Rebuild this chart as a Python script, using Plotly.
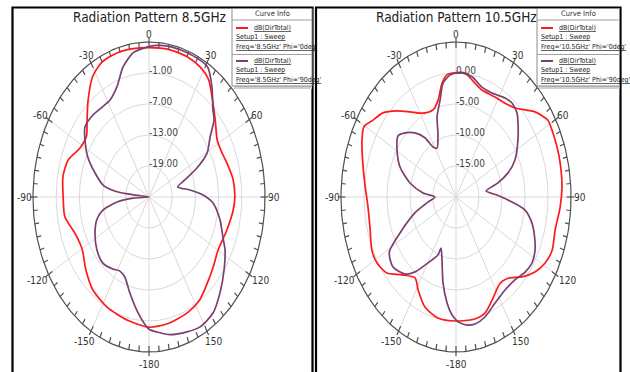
import numpy as np
import plotly.graph_objects as go

W, H = 630, 372

# ---------------- data ----------------
TITLES = ["Radiation Pattern 8.5GHz", "Radiation Pattern 10.5GHz"]
LEGEND_FREQ = [["Freq='8.5GHz' Phi='0deg'", "Freq='8.5GHz' Phi='90deg'"],
               ["Freq='10.5GHz' Phi='0deg'", "Freq='10.5GHz' Phi='90deg'"]]
ANGLE_TICKS = [0, 30, 60, 90, 120, 150, 180, -150, -120, -90, -60, -30]
ANGLE_LABELS = ["0", "30", "60", "90", "120", "150", "-180", "-150", "-120", "-90", "-60", "-30"]

R_RANGE_85 = [-25, 5]
RING_VALUES_85 = [-19, -13, -7, -1]
RING_LABELS_85 = ["-19.00", "-13.00", "-7.00", "-1.00"]
R_RANGE_105 = [-20, 5]
RING_VALUES_105 = [-15, -10, -5, 0]
RING_LABELS_105 = ["-15.00", "-10.00", "-5.00", "0.00"]

# 8.5 GHz, Phi = 0 deg
theta_85_phi0 = [-180, -167, -153, -141, -131, -120, -110, -100, -90, -80, -71, -62, -54, -47, -40,
                 -32, -25, -16, -8, 0, 10, 20, 28, 34, 41, 49, 58, 65, 72, 81, 90, 97, 108, 120,
                 128, 135, 147, 156, 169, 180]
db_85_phi0 = [0.2, -0.5, -1.1, -1.9, -3.4, -5.0, -4.6, -2.9, -2.8, -2.4, -2.9, -4.8, -5.0, -3.1, -0.5,
              2.5, 3.8, 4.1, 4.0, 3.9, 4.0, 3.9, 3.4, 2.5, 0.0, -2.3, -4.2, -4.3, -3.8, -3.0, -2.8, -3.1,
              -3.9, -4.4, -3.7, -2.9, -1.1, -0.5, 0.0, 0.2]

# 8.5 GHz, Phi = 90 deg
theta_85_phi90 = [-180, -172.8, -165, -158, -152, -146, -137, -127, -116.5, -108, -102, -96.6, -93,
                  -90, -84, -83, -79, -71.6, -64, -56.3, -50.7, -42.4, -35, -28.2, -21.2, -15, -8.4,
                  -1, 4, 10, 18, 25, 31, 37.4, 44.5, 48.4, 53.7, 60.4, 65.7, 69.4, 75.4, 82.7, 88.4,
                  94, 103.6, 112, 117.6, 126, 135.3, 143.6, 152.3, 159.4, 168.5, 175.5, 180]
db_85_phi90 = [0.6, -2.4, -5.8, -8.3, -8.8, -8.2, -7.5, -8.1, -9.4, -10.8, -12.8, -16.7, -21.0,
               -25.0, -21.0, -16.7, -12.9, -10.3, -7.4, -5.1, -3.6, -3.5, -3.8, -3.7, -2.1, 1.0, 3.2,
               4.0, 4.4, 4.6, 4.6, 4.6, 4.4, 1.8, -1.4, -2.5, -5.4, -7.7, -11.4, -14.5, -17.3, -14.3,
               -11.0, -8.4, -6.1, -4.4, -2.8, -1.0, 1.1, 2.9, 3.4, 2.9, 2.2, 1.2, 0.6]

# 10.5 GHz, Phi = 0 deg
theta_105_phi0 = [-180, -168.6, -159.2, -151.2, -145.7, -136.9, -129.2, -121.8, -115, -105.9, -94.8,
                  -85.3, -74.8, -65.8, -60.5, -55.5, -49.5, -42.7, -36.1, -27.9, -19.6, -14, -9.4,
                  -5.7, 0, 5.6, 10.4, 18.1, 27.7, 35.1, 41.8, 51.4, 58.2, 62.6, 69.8, 76.4, 86, 94.1,
                  104, 112.3, 118.8, 125.2, 131.9, 139.2, 145.4, 154.8, 161.4, 168.2, 180]
db_105_phi0 = [0.0, -0.1, -1.0, -2.9, -4.2, -2.8, -0.6, 0.2, 0.2, -0.6, -0.8, -0.2, 1.0, 2.4, 3.0,
               1.9, 0.9, -1.1, -3.0, -4.7, -5.1, -3.9, -1.4, -0.2, 0.05, 0.1, -0.8, -1.85, -1.8, -1.5,
               -0.75, 2.0, 3.5, 3.5, 3.4, 3.3, 3.1, 2.7, 2.2, 2.6, 2.1, 1.0, -0.7, -2.7, -3.1, -1.6,
               -0.25, 0.1, 0.0]

# 10.5 GHz, Phi = 90 deg
theta_105_phi90 = [-180, -177.4, -173.5, -168.5, -163.3, -158.4, -157.2, -148.4, -143.6, -138.3,
                   -129.5, -121.5, -114.4, -106, -97.5, -90, -84.8, -77.3, -68.3, -59.4, -52, -47,
                   -40.8, -35.3, -31.8, -27.6, -20.8, -17.7, -12.5, -8.7, -3.8, 0.6, 4.4, 10.2, 17.6,
                   25, 33.7, 38.8, 44.4, 47.3, 55.7, 65, 71, 76, 81.5, 88, 93.8, 98, 104.3, 112, 116.5,
                   122.8, 128.9, 136.2, 144.6, 153.6, 162, 168.6, 173.4, 178.8, 180]
db_105_phi90 = [-0.2, -0.95, -2.8, -5.85, -9.4, -11.15, -9.85, -7.1, -5.0, -3.35, -2.25, -3.0, -7.1,
                -10.7, -13.9, -15.4, -12.8, -9.75, -6.9, -5.1, -4.0, -4.85, -6.35, -8.3, -10.5, -11.1,
                -8.95, -6.45, -4.0, -1.4, -0.3, 0.0, 0.05, -0.3, -1.4, -1.5, -0.8, -0.55, -1.05, -1.7,
                -3.7, -5.85, -8.05, -10.6, -13.4, -11.1, -7.8, -4.85, -2.95, -1.5, -0.8, -0.35, -0.7,
                -1.5, -1.6, -0.9, 0.35, 0.9, 0.8, 0.15, -0.2]

# ---------------- styling ----------------
RED = "#ff1a1a"
PURPLE = "#7b3f70"
GRID = "#d9d9d9"
RIM = "#505050"
NARROW = "Liberation Sans Narrow, Arial Narrow, DejaVu Sans Condensed, Roboto Condensed, Liberation Sans, Arial, sans-serif"

# pixel geometry of the two elliptical polar frames
CX = [149, 456]
CY = 197
SX = [116, 115]
SY = 155
SPLIT = 314


def polar_xy(theta, db, rng):
    t = np.radians(np.asarray(theta, float))
    r = np.clip((np.asarray(db, float) - rng[0]) / (rng[1] - rng[0]), 0, None)
    return r * np.sin(t), r * np.cos(t)


fig = go.Figure()

panels = [
    dict(xa="x", ya="y", rng=R_RANGE_85, rings=RING_VALUES_85, rlabels=RING_LABELS_85,
         curves=[(theta_85_phi0, db_85_phi0, RED), (theta_85_phi90, db_85_phi90, PURPLE)]),
    dict(xa="x2", ya="y2", rng=R_RANGE_105, rings=RING_VALUES_105, rlabels=RING_LABELS_105,
         curves=[(theta_105_phi0, db_105_phi0, RED), (theta_105_phi90, db_105_phi90, PURPLE)]),
]

annotations = []
for i, p in enumerate(panels):
    rng = p["rng"]
    ring_r = [(v - rng[0]) / (rng[1] - rng[0]) for v in p["rings"]]
    circ = np.radians(np.arange(0, 361, 2))
    gx, gy = [], []
    for rr in ring_r:
        gx += list(rr * np.sin(circ)) + [None]
        gy += list(rr * np.cos(circ)) + [None]
    for a in range(0, 360, 30):
        t = np.radians(a)
        gx += [0, np.sin(t), None]
        gy += [0, np.cos(t), None]
    fig.add_trace(go.Scatter(x=gx, y=gy, mode="lines", line=dict(color=GRID, width=1),
                             xaxis=p["xa"], yaxis=p["ya"], hoverinfo="skip", showlegend=False))
    # rim + ticks
    rx = list(np.sin(circ)) + [None]
    ry = list(np.cos(circ)) + [None]
    for a in range(0, 360, 5):
        t = np.radians(a)
        if a % 30 == 0:
            r0, r1 = 0.962, 1.028
        else:
            r0, r1 = 0.962, 1.0
        rx += [r0 * np.sin(t), r1 * np.sin(t), None]
        ry += [r0 * np.cos(t), r1 * np.cos(t), None]
    fig.add_trace(go.Scatter(x=rx, y=ry, mode="lines", line=dict(color=RIM, width=1.2),
                             xaxis=p["xa"], yaxis=p["ya"], hoverinfo="skip", showlegend=False))
    # curves
    for th, db, col in p["curves"]:
        x, y = polar_xy(th, db, rng)
        fig.add_trace(go.Scatter(x=x, y=y, mode="lines",
                                 line=dict(color=col, width=1.7, shape="spline", smoothing=0.7),
                                 xaxis=p["xa"], yaxis=p["ya"], showlegend=False))
    # ring labels
    for rr, lab in zip(ring_r, p["rlabels"]):
        annotations.append(dict(x=0, y=rr, xref=p["xa"], yref=p["ya"], text=lab, showarrow=False,
                                xanchor="left", yanchor="middle", xshift=-2, yshift=3,
                                font=dict(family=NARROW, size=10, color="#444")))
    # angle labels
    for a, lab in zip(ANGLE_TICKS, ANGLE_LABELS):
        t = np.radians(a)
        d = 8 if abs(a) <= 90 else 12
        annotations.append(dict(x=np.sin(t), y=np.cos(t), xref=p["xa"], yref=p["ya"], text=lab,
                                showarrow=False, xanchor="center", yanchor="middle",
                                xshift=d * np.sin(t) * 1.1, yshift=d * np.cos(t),
                                font=dict(family=NARROW, size=10, color="#333")))


def px(x):
    return x / W


def py(y):
    return 1 - y / H


shapes = []
# panel frames
for x0, x1 in [(12.5, 312.5), (316, 620.5)]:
    shapes.append(dict(type="rect", xref="paper", yref="paper", x0=px(x0), x1=px(x1),
                       y0=py(7.5), y1=py(374), line=dict(color="black", width=2.2)))

# legend boxes
LEG_X = [232, 537]
LEG_R = [312, 619.5]
for i in range(2):
    lx, rx_ = LEG_X[i], LEG_R[i]
    shapes.append(dict(type="rect", xref="paper", yref="paper", x0=px(lx + 2), x1=px(rx_),
                       y0=py(8), y1=py(89), fillcolor="#cfcfcf", line=dict(width=0), layer="above"))
    shapes.append(dict(type="rect", xref="paper", yref="paper", x0=px(lx), x1=px(rx_),
                       y0=py(8.5), y1=py(86), fillcolor="white", line=dict(color="#8c8c8c", width=1),
                       layer="above"))
    for yy in (20, 54.5):
        shapes.append(dict(type="line", xref="paper", yref="paper", x0=px(lx), x1=px(rx_),
                           y0=py(yy), y1=py(yy), line=dict(color="#a0a0a0", width=1), layer="above"))
    for yy, col in ((28, RED), (61, PURPLE)):
        shapes.append(dict(type="line", xref="paper", yref="paper", x0=px(lx + 4), x1=px(lx + 16),
                           y0=py(yy), y1=py(yy), line=dict(color=col, width=2), layer="above"))
    lf = dict(family=NARROW, size=7, color="#222")
    annotations.append(dict(x=px((lx + rx_) / 2), y=py(14), xref="paper", yref="paper",
                            text="Curve Info", showarrow=False, xanchor="center", yanchor="middle",
                            font=dict(family=NARROW, size=7.5, color="#333")))
    for k, base in enumerate((28, 61)):
        annotations.append(dict(x=px(lx + 20), y=py(base), xref="paper", yref="paper",
                                text="<u>dB(DirTotal)</u>", showarrow=False, xanchor="left",
                                yanchor="middle", font=lf))
        annotations.append(dict(x=px(lx + 2), y=py(base + 9.3), xref="paper", yref="paper",
                                text="<u>Setup1 : Sweep</u>", showarrow=False, xanchor="left",
                                yanchor="middle", font=lf))
        annotations.append(dict(x=px(lx + 2), y=py(base + 18.6), xref="paper", yref="paper",
                                text="<u>" + LEGEND_FREQ[i][k] + "</u>", showarrow=False,
                                xanchor="left", yanchor="middle", font=lf))
    # title
    annotations.append(dict(x=px(CX[i]), y=py(17), xref="paper", yref="paper", text=TITLES[i],
                            showarrow=False, xanchor="center", yanchor="middle",
                            font=dict(family=NARROW, size=13.5, color="#222")))

ax_common = dict(visible=False, fixedrange=True, showgrid=False, zeroline=False)
fig.update_layout(
    width=W, height=H, margin=dict(l=0, r=0, t=0, b=0),
    paper_bgcolor="white", plot_bgcolor="white", showlegend=False,
    xaxis=dict(domain=[0, SPLIT / W], range=[-CX[0] / SX[0], (SPLIT - CX[0]) / SX[0]], **ax_common),
    yaxis=dict(domain=[0, 1], range=[-(H - CY) / SY, CY / SY], **ax_common),
    xaxis2=dict(domain=[SPLIT / W, 1], range=[(SPLIT - CX[1]) / SX[1], (W - CX[1]) / SX[1]],
                anchor="y2", **ax_common),
    yaxis2=dict(domain=[0, 1], range=[-(H - CY) / SY, CY / SY], anchor="x2", **ax_common),
    shapes=shapes, annotations=annotations,
)

fig.write_html("out.html", config={"displayModeBar": False, "staticPlot": True},
               post_script="document.body.style.margin='0';document.body.style.overflow='hidden';")
